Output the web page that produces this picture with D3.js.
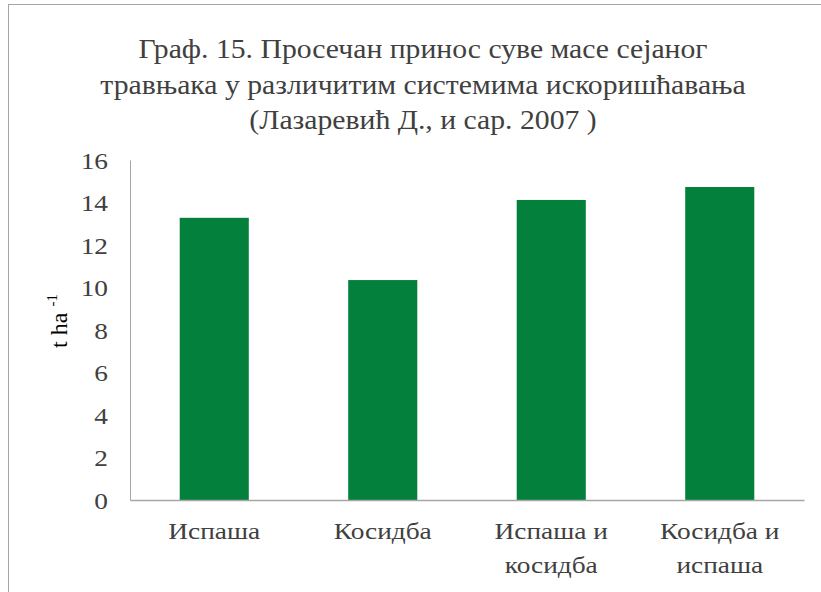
<!DOCTYPE html>
<html>
<head>
<meta charset="utf-8">
<script src="https://cdn.jsdelivr.net/npm/d3@7"></script>
<style>
  body { margin: 0; background: #fff; }
  svg text { font-family: "Liberation Serif", "Times New Roman", serif; }
</style>
</head>
<body>
<svg id="chart" width="821" height="592"></svg>
<script>
// data
const categories = [['Испаша'], ['Косидба'], ['Испаша и', 'косидба'], ['Косидба и', 'испаша']];
const yields = [13.28, 10.35, 14.12, 14.73];
const yTicks = [0, 2, 4, 6, 8, 10, 12, 14, 16];
const titleLines = [
  'Граф. 15. Просечан принос суве масе сејаног',
  'травњака у различитим системима искоришћавања',
  '(Лазаревић Д., и сар. 2007 )'
];

const serif = '"Liberation Serif", "Times New Roman", serif';
// the reference text is a bit wider than it is tall
const stretch = 1.14;

const margin = { top: 160, bottom: 92, left: 130, right: 17 };
const width = 821 - margin.left - margin.right;
const height = 592 - margin.top - margin.bottom;

const svg = d3.select('#chart');

// outer chart frame
svg.append('rect')
  .attr('x', 8.5).attr('y', 4.5)
  .attr('width', 830).attr('height', 600)
  .attr('fill', 'none')
  .attr('stroke', '#a6a6a6')
  .attr('stroke-width', 1);

svg.selectAll('text.title')
  .data(titleLines)
  .enter()
  .append('text')
    .attr('class', 'title')
    .attr('transform', (d, i) => `translate(423, ${58 + i * 35.5}) scale(1.1, 1)`)
    .attr('text-anchor', 'middle')
    .style('font-family', serif)
    .style('font-size', '27px')
    .style('fill', '#404040')
    .text(d => d);

const g = svg.append('g')
  .attr('transform', `translate(${margin.left}, ${margin.top})`);

const x = d3.scaleBand()
  .domain(d3.range(categories.length))
  .range([0, width])
  .paddingInner(0.59)
  .paddingOuter(0.295);

const y = d3.scaleLinear()
  .domain([0, 16])
  .range([height, 0]);

// y axis: line only, no ticks
const yAxis = g.append('g')
  .attr('class', 'axis y')
  .attr('font-family', serif)
  .call(d3.axisLeft(y).tickValues(yTicks).tickSize(0).tickPadding(0));
yAxis.select('.domain').attr('stroke', '#a6a6a6');
yAxis.selectAll('text')
  .attr('x', -22 / stretch)
  .attr('dy', '0.35em')
  .attr('transform', `scale(${stretch}, 1)`)
  .style('font-size', '24px')
  .style('font-family', serif)
  .style('fill', '#404040');

// bars
g.selectAll('rect.bar')
  .data(yields)
  .enter()
  .append('rect')
    .attr('class', 'bar')
    .attr('x', (d, i) => x(i))
    .attr('y', d => y(d))
    .attr('width', x.bandwidth())
    .attr('height', d => height - y(d))
    .attr('fill', '#03803c');

// x axis line
const xAxis = g.append('g')
  .attr('class', 'axis x')
  .attr('transform', `translate(0, ${height})`)
  .call(d3.axisBottom(x).tickSize(0).tickFormat(''));
xAxis.select('.domain').attr('stroke', '#a6a6a6').attr('stroke-width', 1.5);

// category labels, wrapped on two lines
g.selectAll('text.catLabel')
  .data(categories)
  .enter()
  .append('text')
    .attr('class', 'catLabel')
    .attr('text-anchor', 'middle')
    .attr('transform', (d, i) => `translate(${x(i) + x.bandwidth() / 2}, ${height + 39}) scale(${stretch}, 1)`)
    .style('font-family', serif)
    .style('font-size', '24px')
    .style('fill', '#404040')
    .each(function(d) {
      d3.select(this).selectAll('tspan')
        .data(d)
        .enter()
        .append('tspan')
          .attr('x', 0)
          .attr('dy', (t, j) => j === 0 ? 0 : 34)
          .text(t => t);
    });

// y axis label
const yLab = svg.append('text')
  .attr('transform', 'translate(67, 321) rotate(-90)')
  .attr('text-anchor', 'middle')
  .style('font-family', serif)
  .style('font-size', '24px')
  .style('fill', '#000');
yLab.append('tspan').text('t ha ');
yLab.append('tspan')
  .attr('dy', -10)
  .style('font-size', '15px')
  .text('-1');
</script>
</body>
</html>
